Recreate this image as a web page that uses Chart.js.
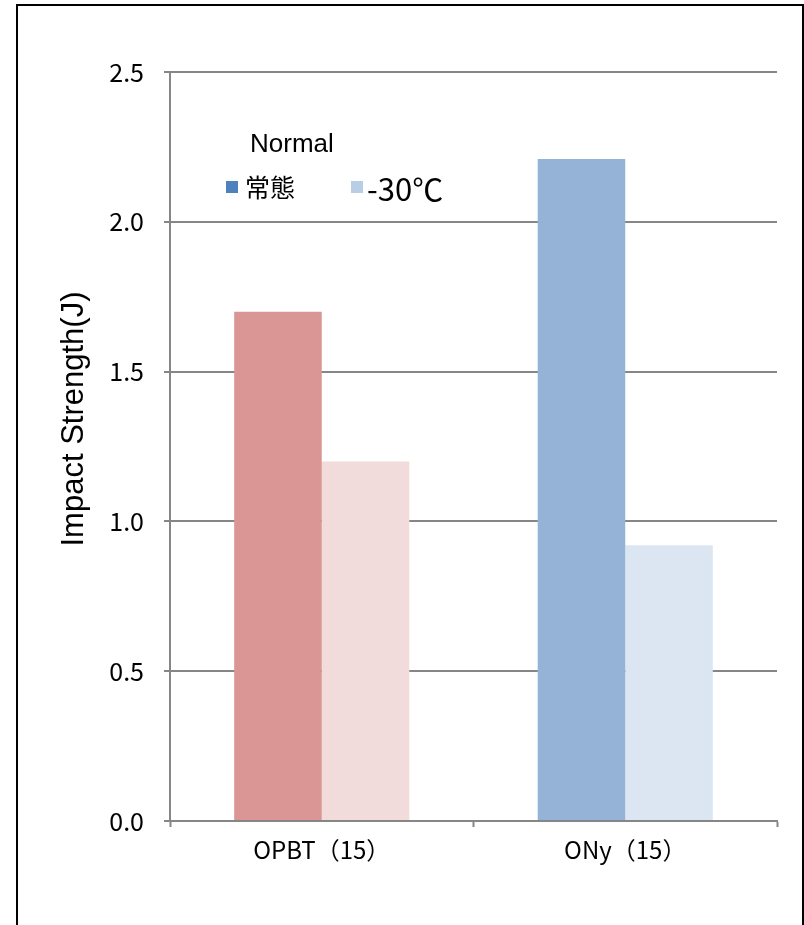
<!DOCTYPE html>
<html>
<head>
<meta charset="utf-8">
<script src="https://cdn.jsdelivr.net/npm/chart.js@4.4.1/dist/chart.umd.min.js"></script>
<style>
  html, body { margin: 0; padding: 0; background: #fff; overflow: hidden; }
  #wrap { position: relative; width: 804px; height: 925px; }
  #frame { position: absolute; left: 16px; top: 4px; width: 788px; height: 1000px; border: 2px solid #000; box-sizing: border-box; }
  #chart { position: absolute; left: 0; top: 0; }
</style>
</head>
<body>
<div id="wrap">
  <div id="frame"></div>
  <canvas id="chart" width="804" height="925"></canvas>
</div>
<script>
// Chart data
const categories = ['OPBT（15）', 'ONy（15）'];
const seriesNames = ['常態', '-30℃'];
const normalValues = [1.70, 2.21];
const coldValues = [1.20, 0.92];
const yTicks = [0, 0.5, 1.0, 1.5, 2.0, 2.5];

// Colours
const colors = {
  pink: '#D99694',
  pinkLight: '#F2DCDB',
  blue: '#95B3D7',
  blueLight: '#DCE6F2',
  legendNormal: '#4F81BD',
  legendCold: '#B9CDE5',
  axis: '#868686'
};

const jpFont = "'Noto Sans CJK JP', sans-serif";
const latinFont = "'Liberation Sans', Arial, sans-serif";

// Legend + axis title drawn over the chart
const overlayPlugin = {
  id: 'overlay',
  afterDraw(chart) {
    const ctx = chart.ctx;
    ctx.save();
    ctx.fillStyle = '#000';

    // "Normal" caption
    ctx.font = '26px ' + latinFont;
    ctx.textAlign = 'left';
    ctx.textBaseline = 'alphabetic';
    ctx.fillText('Normal', 250, 152);

    // legend markers
    ctx.fillStyle = colors.legendNormal;
    ctx.fillRect(226, 181, 12, 12);
    ctx.fillStyle = colors.legendCold;
    ctx.fillRect(351, 181, 12, 12);

    ctx.fillStyle = '#000';
    ctx.font = '25px ' + jpFont;
    ctx.textBaseline = 'middle';
    ctx.fillText(seriesNames[0], 245, 187);
    ctx.font = '31px ' + jpFont;
    ctx.textBaseline = 'alphabetic';
    ctx.fillText(seriesNames[1], 367, 201);

    // y axis title
    ctx.translate(83, 419);
    ctx.rotate(-Math.PI / 2);
    ctx.font = '31px ' + latinFont;
    ctx.textAlign = 'center';
    ctx.fillText('Impact Strength(J)', 0, 0);
    ctx.restore();
  }
};

const ctx = document.getElementById('chart').getContext('2d');

new Chart(ctx, {
  type: 'bar',
  data: {
    labels: categories,
    datasets: [
      {
        label: seriesNames[0],
        data: normalValues,
        backgroundColor: [colors.pink, colors.blue],
        borderWidth: 0
      },
      {
        label: seriesNames[1],
        data: coldValues,
        backgroundColor: [colors.pinkLight, colors.blueLight],
        borderWidth: 0
      }
    ]
  },
  options: {
    responsive: false,
    animation: false,
    maintainAspectRatio: false,
    layout: { padding: { left: 0, top: 72, right: 27, bottom: 0 } },
    datasets: {
      bar: { categoryPercentage: 0.577, barPercentage: 1.0 }
    },
    scales: {
      x: {
        grid: {
          display: true,
          drawOnChartArea: false,
          drawTicks: true,
          tickLength: 6,
          tickColor: colors.axis,
          tickWidth: 2
        },
        border: { display: true, color: colors.axis, width: 2 },
        ticks: {
          color: '#000',
          padding: 8,
          font: { family: jpFont, size: 24 }
        },
        afterFit: (scale) => { scale.height = 104; }
      },
      y: {
        min: 0,
        max: 2.5,
        afterBuildTicks: (scale) => { scale.ticks = yTicks.map(v => ({ value: v })); },
        ticks: {
          color: '#000',
          padding: 20,
          font: { family: jpFont, size: 25 },
          callback: (v) => Number(v).toFixed(1)
        },
        grid: {
          color: colors.axis,
          lineWidth: 2,
          tickLength: 6,
          tickColor: colors.axis
        },
        border: { display: true, color: colors.axis, width: 2 },
        afterFit: (scale) => { scale.width = 170; }
      }
    },
    plugins: {
      legend: { display: false },
      tooltip: { enabled: false }
    }
  },
  plugins: [overlayPlugin]
});
</script>
</body>
</html>
